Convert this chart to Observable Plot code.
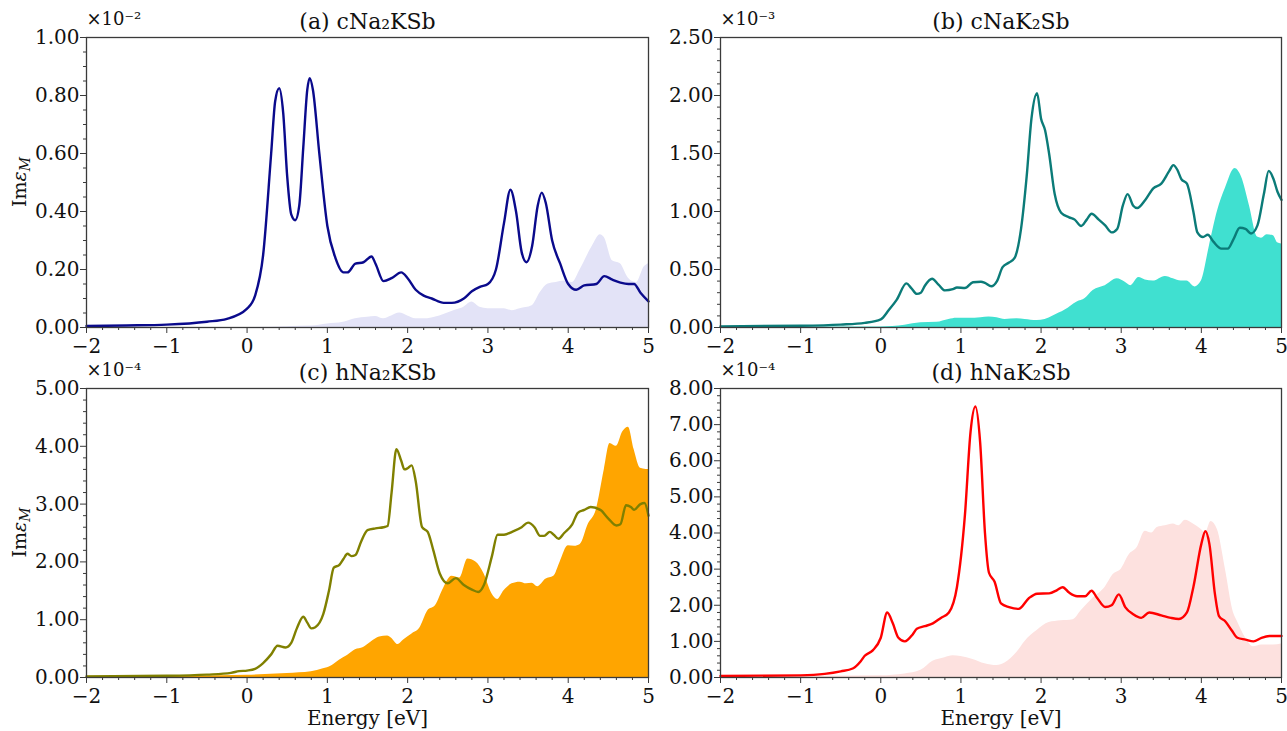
<!DOCTYPE html>
<html>
<head>
<meta charset="utf-8">
<script src="https://cdn.jsdelivr.net/npm/d3@7"></script>
<script src="https://cdn.jsdelivr.net/npm/@observablehq/plot@0.6"></script>
<style>
  html, body { margin: 0; padding: 0; background: #fff; }
  #wrap { position: relative; width: 1287px; height: 731px; overflow: hidden; background: #fff; }
  .cell { position: absolute; }
  .cell svg { overflow: visible; background: transparent; }
</style>
</head>
<body>
<div id="wrap"></div>
<script>
// ---------- tick labels ----------
const xTicks = [-2, -1, 0, 1, 2, 3, 4, 5];
const yTicksA = [0, 0.2, 0.4, 0.6, 0.8, 1.0];
const yTicksB = [0, 0.5, 1.0, 1.5, 2.0, 2.5];
const yTicksC = [0, 1, 2, 3, 4, 5];
const yTicksD = [0, 1, 2, 3, 4, 5, 6, 7, 8];
const titles = ["(a) cNa\u2082KSb", "(b) cNaK\u2082Sb", "(c) hNa\u2082KSb", "(d) hNaK\u2082Sb"];
const exponents = ["\u00d710\u207b\u00b2", "\u00d710\u207b\u00b3", "\u00d710\u207b\u2074", "\u00d710\u207b\u2074"];
const xLabel = "Energy [eV]";

// ---------- (a) cNa2KSb  (x 10^-2) ----------
const aLineE = [-2, -1.5, -1, -0.5, -0.25, 0, 0.1, 0.2, 0.3, 0.35, 0.4, 0.45, 0.5, 0.55, 0.6, 0.65, 0.7, 0.75, 0.78, 0.82, 0.9, 1.0, 1.1, 1.2, 1.25, 1.35, 1.45, 1.55, 1.6, 1.7, 1.8, 1.92, 2.0, 2.1, 2.2, 2.3, 2.45, 2.55, 2.7, 2.8, 2.9, 3.0, 3.1, 3.2, 3.28, 3.35, 3.42, 3.48, 3.55, 3.62, 3.67, 3.72, 3.8, 3.9, 4.0, 4.1, 4.2, 4.35, 4.45, 4.55, 4.65, 4.75, 4.82, 4.9, 5.0];
const aLineV = [0.005, 0.007, 0.01, 0.02, 0.03, 0.065, 0.11, 0.25, 0.6, 0.78, 0.825, 0.74, 0.52, 0.39, 0.37, 0.42, 0.62, 0.82, 0.86, 0.82, 0.6, 0.35, 0.24, 0.19, 0.19, 0.22, 0.225, 0.245, 0.22, 0.16, 0.17, 0.19, 0.17, 0.13, 0.11, 0.1, 0.085, 0.085, 0.1, 0.125, 0.14, 0.15, 0.2, 0.36, 0.475, 0.4, 0.26, 0.225, 0.28, 0.42, 0.465, 0.43, 0.3, 0.22, 0.15, 0.13, 0.145, 0.15, 0.177, 0.165, 0.155, 0.15, 0.15, 0.12, 0.09];
const aFillE = [-2, 0, 0.5, 0.8, 1.0, 1.2, 1.35, 1.5, 1.6, 1.7, 1.8, 1.9, 2.0, 2.1, 2.2, 2.4, 2.6, 2.7, 2.8, 2.9, 3.0, 3.2, 3.3, 3.4, 3.55, 3.65, 3.75, 3.85, 3.95, 4.05, 4.15, 4.3, 4.4, 4.45, 4.55, 4.65, 4.75, 4.85, 4.95, 5.0];
const aFillV = [0, 0, 0.003, 0.005, 0.012, 0.018, 0.03, 0.035, 0.038, 0.03, 0.04, 0.05, 0.04, 0.03, 0.03, 0.04, 0.06, 0.07, 0.088, 0.07, 0.065, 0.065, 0.058, 0.065, 0.075, 0.12, 0.15, 0.155, 0.16, 0.155, 0.2, 0.28, 0.32, 0.31, 0.23, 0.22, 0.17, 0.155, 0.21, 0.22];

// ---------- (b) cNaK2Sb  (x 10^-3) ----------
const bLineE = [-2, -1, -0.5, -0.2, 0, 0.1, 0.2, 0.32, 0.38, 0.45, 0.5, 0.55, 0.64, 0.72, 0.8, 0.9, 0.95, 1.05, 1.15, 1.25, 1.3, 1.38, 1.45, 1.52, 1.6, 1.67, 1.75, 1.82, 1.88, 1.95, 2.0, 2.05, 2.1, 2.17, 2.25, 2.35, 2.42, 2.5, 2.57, 2.63, 2.72, 2.8, 2.88, 2.95, 3.02, 3.08, 3.15, 3.2, 3.3, 3.4, 3.5, 3.6, 3.65, 3.7, 3.75, 3.82, 3.9, 3.95, 4.02, 4.08, 4.15, 4.25, 4.33, 4.4, 4.48, 4.55, 4.62, 4.7, 4.78, 4.84, 4.9, 4.95, 5.0];
const bLineV = [0.01, 0.015, 0.025, 0.04, 0.07, 0.15, 0.24, 0.38, 0.34, 0.29, 0.3, 0.36, 0.42, 0.37, 0.32, 0.33, 0.345, 0.34, 0.39, 0.395, 0.385, 0.355, 0.4, 0.52, 0.56, 0.6, 0.85, 1.3, 1.8, 2.02, 1.8, 1.7, 1.5, 1.15, 0.99, 0.95, 0.93, 0.875, 0.93, 0.98, 0.93, 0.88, 0.82, 0.85, 1.05, 1.15, 1.05, 1.03, 1.1, 1.2, 1.24, 1.35, 1.4, 1.36, 1.28, 1.24, 1.0, 0.82, 0.78, 0.8, 0.74, 0.68, 0.68, 0.76, 0.86, 0.85, 0.81, 0.88, 1.15, 1.35, 1.28, 1.17, 1.1];
const bFillE = [-2, 0, 0.3, 0.5, 0.7, 0.85, 0.95, 1.1, 1.25, 1.35, 1.45, 1.55, 1.7, 1.8, 1.95, 2.05, 2.15, 2.3, 2.45, 2.55, 2.65, 2.8, 2.95, 3.05, 3.12, 3.22, 3.3, 3.4, 3.55, 3.65, 3.75, 3.82, 3.92, 4.0, 4.1, 4.2, 4.3, 4.42, 4.5, 4.6, 4.7, 4.75, 4.82, 4.9, 4.95, 5.0];
const bFillV = [0.005, 0.005, 0.02, 0.04, 0.045, 0.07, 0.08, 0.08, 0.085, 0.09, 0.085, 0.07, 0.075, 0.07, 0.06, 0.07, 0.1, 0.15, 0.22, 0.25, 0.32, 0.36, 0.42, 0.39, 0.36, 0.43, 0.41, 0.4, 0.44, 0.42, 0.4, 0.4, 0.35, 0.4, 0.7, 1.0, 1.2, 1.37, 1.3, 1.05, 0.78, 0.77, 0.8, 0.79, 0.73, 0.72];

// ---------- (c) hNa2KSb  (x 10^-4) ----------
const cLineE = [-2, -1, -0.5, -0.2, -0.1, 0, 0.1, 0.2, 0.3, 0.38, 0.48, 0.55, 0.62, 0.7, 0.75, 0.8, 0.85, 0.95, 1.02, 1.08, 1.15, 1.2, 1.25, 1.3, 1.35, 1.42, 1.5, 1.6, 1.7, 1.75, 1.8, 1.86, 1.92, 1.96, 2.0, 2.05, 2.1, 2.18, 2.25, 2.32, 2.4, 2.5, 2.6, 2.7, 2.8, 2.88, 2.95, 3.05, 3.12, 3.2, 3.3, 3.42, 3.5, 3.58, 3.65, 3.7, 3.77, 3.82, 3.88, 3.95, 4.05, 4.12, 4.2, 4.28, 4.4, 4.5, 4.6, 4.65, 4.72, 4.78, 4.82, 4.9, 4.95, 5.0];
const cLineV = [0.02, 0.03, 0.05, 0.08, 0.11, 0.12, 0.15, 0.25, 0.4, 0.55, 0.52, 0.6, 0.85, 1.05, 0.95, 0.85, 0.87, 1.1, 1.5, 1.9, 1.95, 2.05, 2.14, 2.1, 2.12, 2.35, 2.55, 2.58, 2.6, 2.62, 3.2, 3.95, 3.75, 3.6, 3.62, 3.67, 3.4, 2.6, 2.52, 2.2, 1.8, 1.63, 1.72, 1.6, 1.52, 1.48, 1.6, 2.1, 2.47, 2.47, 2.52, 2.6, 2.68, 2.6, 2.45, 2.45, 2.52, 2.47, 2.4, 2.5, 2.65, 2.85, 2.9, 2.95, 2.9, 2.75, 2.63, 2.65, 2.98, 2.95, 2.9, 3.0, 3.02, 2.8];
const cFillE = [-2, -1, 0, 0.5, 0.8, 0.95, 1.05, 1.15, 1.25, 1.35, 1.45, 1.55, 1.65, 1.75, 1.8, 1.88, 1.95, 2.05, 2.15, 2.25, 2.35, 2.45, 2.55, 2.65, 2.75, 2.85, 2.95, 3.05, 3.12, 3.2, 3.3, 3.4, 3.48, 3.55, 3.62, 3.72, 3.82, 3.9, 4.0, 4.08, 4.15, 4.25, 4.35, 4.45, 4.52, 4.6, 4.68, 4.75, 4.82, 4.9, 4.97, 5.0];
const cFillV = [0.02, 0.02, 0.04, 0.07, 0.1, 0.15, 0.2, 0.3, 0.38, 0.48, 0.52, 0.62, 0.7, 0.72, 0.68, 0.57, 0.65, 0.75, 0.85, 1.15, 1.25, 1.55, 1.75, 1.72, 2.05, 2.0, 1.8, 1.45, 1.35, 1.5, 1.62, 1.65, 1.62, 1.63, 1.57, 1.7, 1.75, 2.0, 2.28, 2.27, 2.3, 2.65, 2.9, 3.6, 4.05, 4.0, 4.25, 4.33, 3.95, 3.62, 3.6, 3.6];

// ---------- (d) hNaK2Sb  (x 10^-4) ----------
const dLineE = [-2, -1, -0.7, -0.5, -0.35, -0.25, -0.2, -0.1, 0, 0.08, 0.15, 0.22, 0.3, 0.4, 0.45, 0.55, 0.65, 0.75, 0.85, 0.95, 1.05, 1.12, 1.18, 1.24, 1.3, 1.35, 1.42, 1.5, 1.6, 1.72, 1.85, 1.95, 2.1, 2.2, 2.27, 2.35, 2.45, 2.55, 2.63, 2.7, 2.8, 2.88, 2.97, 3.05, 3.15, 3.25, 3.35, 3.5, 3.62, 3.72, 3.82, 3.9, 4.0, 4.05, 4.1, 4.17, 4.22, 4.3, 4.38, 4.45, 4.55, 4.65, 4.75, 4.85, 5.0];
const dLineV = [0.04, 0.06, 0.1, 0.17, 0.25, 0.45, 0.6, 0.75, 1.1, 1.8, 1.5, 1.1, 1.0, 1.2, 1.35, 1.42, 1.5, 1.65, 1.8, 2.5, 4.5, 6.8, 7.5, 6.5, 4.0, 2.9, 2.65, 2.05, 1.95, 1.9, 2.2, 2.32, 2.33, 2.42, 2.5, 2.35, 2.25, 2.25, 2.4, 2.2, 1.95, 2.0, 2.3, 1.95, 1.75, 1.65, 1.8, 1.72, 1.65, 1.62, 1.8, 2.5, 3.7, 4.05, 3.7, 2.3, 1.7, 1.55, 1.3, 1.1, 1.05, 1.0, 1.1, 1.15, 1.15];
const dFillE = [-2, 0, 0.3, 0.5, 0.65, 0.8, 0.9, 1.0, 1.15, 1.3, 1.45, 1.55, 1.7, 1.8, 1.95, 2.1, 2.25, 2.4, 2.5, 2.65, 2.8, 2.9, 3.0, 3.1, 3.2, 3.3, 3.38, 3.45, 3.55, 3.65, 3.72, 3.8, 3.9, 4.0, 4.05, 4.12, 4.2, 4.3, 4.4, 4.45, 4.55, 4.65, 4.75, 4.9, 5.0];
const dFillV = [0.02, 0.05, 0.1, 0.2, 0.45, 0.55, 0.6, 0.58, 0.5, 0.38, 0.33, 0.4, 0.7, 1.0, 1.3, 1.52, 1.57, 1.6, 1.85, 2.2, 2.5, 2.85, 3.0, 3.4, 3.6, 4.05, 4.0, 4.15, 4.2, 4.25, 4.2, 4.35, 4.25, 4.1, 4.0, 4.32, 4.1, 3.0, 1.8, 1.55, 1.1, 0.85, 0.9, 0.9, 0.93];

const toRows = (E, V) => E.map((e, i) => ({e, v: V[i]}));

const panels = [
  {lineE: aLineE, lineV: aLineV, fillE: aFillE, fillV: aFillV, yTicks: yTicksA, minorDiv: 4,
   stroke: "#0a0a8c", fill: "#e3e3f7", title: titles[0], exp: exponents[0],
   left: 0, top: 0, width: 660, height: 360, mL: 86, mR: 12, mT: 37, mB: 33, yLabel: true, xLabel: false},
  {lineE: bLineE, lineV: bLineV, fillE: bFillE, fillV: bFillV, yTicks: yTicksB, minorDiv: 5,
   stroke: "#0b7b78", fill: "#40e0d0", title: titles[1], exp: exponents[1],
   left: 660, top: 0, width: 627, height: 360, mL: 60, mR: 6, mT: 37, mB: 33, yLabel: false, xLabel: false},
  {lineE: cLineE, lineV: cLineV, fillE: cFillE, fillV: cFillV, yTicks: yTicksC, minorDiv: 5,
   stroke: "#808000", fill: "#ffa500", title: titles[2], exp: exponents[2],
   left: 0, top: 351, width: 660, height: 380, mL: 86, mR: 12, mT: 37, mB: 54, yLabel: true, xLabel: true},
  {lineE: dLineE, lineV: dLineV, fillE: dFillE, fillV: dFillV, yTicks: yTicksD, minorDiv: 5,
   stroke: "#ff0000", fill: "#fde1df", title: titles[3], exp: exponents[3],
   left: 660, top: 351, width: 627, height: 380, mL: 60, mR: 6, mT: 37, mB: 54, yLabel: false, xLabel: true}
];

const xMinor = [];
for (let i = 0; i < xTicks.length - 1; i++)
  for (let k = 1; k < 5; k++) xMinor.push(xTicks[i] + k * (xTicks[i + 1] - xTicks[i]) / 5);

const wrap = document.getElementById("wrap");
const FONT = "'DejaVu Serif', serif";
const fmtX = d3.format("d");
const fmtY = d3.format(".2f");

for (const p of panels) {
  const yMinor = [];
  for (let i = 0; i < p.yTicks.length - 1; i++)
    for (let k = 1; k < p.minorDiv; k++)
      yMinor.push(p.yTicks[i] + k * (p.yTicks[i + 1] - p.yTicks[i]) / p.minorDiv);

  const marks = [
    Plot.areaY(toRows(p.fillE, p.fillV), {x: "e", y: "v", fill: p.fill, curve: "monotone-x"}),
    Plot.lineY(toRows(p.lineE, p.lineV), {x: "e", y: "v", stroke: p.stroke, strokeWidth: 2.4, curve: "monotone-x"}),
    Plot.frame({stroke: "#3a3a3a", strokeWidth: 1.3}),
    // tick lines
    Plot.axisX({ticks: xTicks, tickSize: 6, text: null, label: null, stroke: "#3a3a3a"}),
    Plot.axisX({ticks: xMinor, tickSize: 3, text: null, label: null, stroke: "#3a3a3a"}),
    Plot.axisY({ticks: p.yTicks, tickSize: 6, text: null, label: null, stroke: "#3a3a3a"}),
    Plot.axisY({ticks: yMinor, tickSize: 3, text: null, label: null, stroke: "#3a3a3a"}),
    // tick labels
    Plot.text(xTicks, {x: d => d, text: d => fmtX(d), frameAnchor: "bottom", lineAnchor: "top", dy: 11, fontSize: 20, fill: "#111"}),
    Plot.text(p.yTicks, {y: d => d, text: d => fmtY(d), frameAnchor: "left", textAnchor: "end", dx: -7, fontSize: 20, fill: "#111"}),
    // titles
    Plot.text([p.title], {frameAnchor: "top", lineAnchor: "bottom", dy: -9, fontSize: 22, fill: "#111"}),
    Plot.text([p.exp], {frameAnchor: "top-left", textAnchor: "start", lineAnchor: "bottom", dy: -13, fontSize: 18, fill: "#111"})
  ];
  if (p.xLabel) marks.push(Plot.text([xLabel], {frameAnchor: "bottom", lineAnchor: "top", dy: 33, fontSize: 20, fill: "#111"}));

  const chart = Plot.plot({
    width: p.width, height: p.height,
    marginLeft: p.mL, marginRight: p.mR, marginTop: p.mT, marginBottom: p.mB,
    x: {domain: [-2, 5]},
    y: {domain: [p.yTicks[0], p.yTicks[p.yTicks.length - 1]]},
    style: {fontFamily: FONT, fontSize: "20px", background: "transparent", overflow: "visible"},
    marks
  });

  if (p.yLabel) {
    const ih = p.height - p.mT - p.mB;
    const t = d3.select(chart).append("text")
      .attr("transform", `translate(26, ${p.mT + ih / 2}) rotate(-90)`)
      .attr("text-anchor", "middle")
      .attr("font-family", FONT)
      .attr("font-size", 19)
      .attr("fill", "#111");
    t.append("tspan").text("Im");
    t.append("tspan").attr("font-style", "italic").text("\u03b5");
    t.append("tspan").attr("font-style", "italic").attr("font-size", 14).attr("dy", 4).text("M");
  }

  const cell = document.createElement("div");
  cell.className = "cell";
  cell.style.left = p.left + "px";
  cell.style.top = p.top + "px";
  cell.appendChild(chart);
  wrap.appendChild(cell);
}
</script>
</body>
</html>
